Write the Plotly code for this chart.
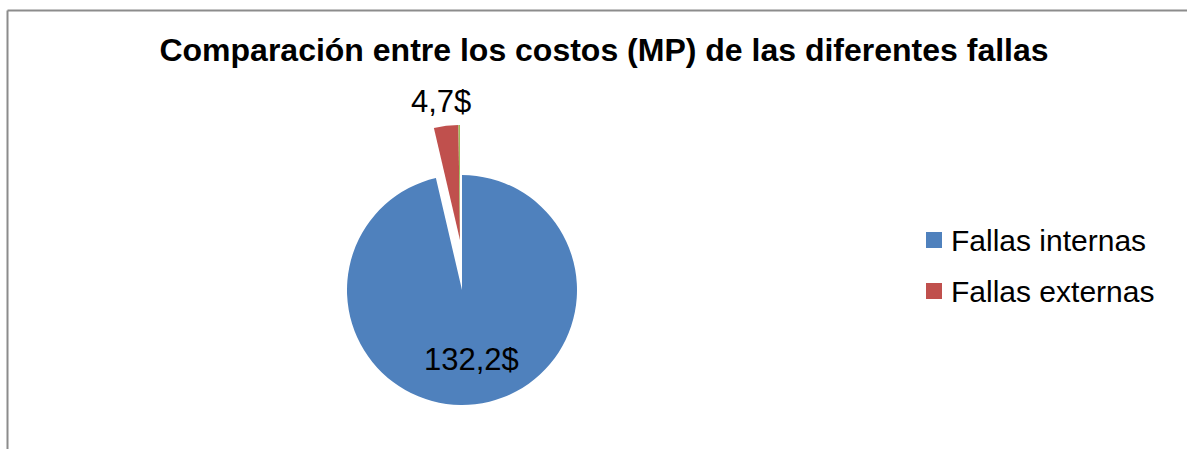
import plotly.graph_objects as go

# Cost of raw material (MP) per failure type, in $
categories = ["Fallas internas", "Fallas externas", "Otras fallas"]
values = [132.2, 4.7, 0.3]
colors = ["#4F81BD", "#C0504D", "#9BBB59"]
legend_labels = ["Fallas internas", "Fallas externas"]

TITLE = "Comparación entre los costos (MP) de las diferentes fallas"
FONT = "Liberation Sans, Arial, Helvetica, sans-serif"
W, H = 1187, 449
CLEAR = "rgba(0,0,0,0)"


def domain(cx, cy, r):
    """Square pie domain (paper fractions) around a pixel centre."""
    return dict(x=[(cx - r) / W, (cx + r) / W],
                y=[1 - (cy + r) / H, 1 - (cy - r) / H])


def money(v):
    """One decimal, comma as decimal separator, trailing $."""
    return f"{v:.1f}".replace(".", ",") + "$"


common = dict(
    labels=categories,
    values=values,
    sort=False,
    direction="clockwise",
    rotation=0,
    textinfo="none",
    showlegend=False,
    hoverinfo="label+value",
)

fig = go.Figure()

# main body of the pie (internal failures)
fig.add_trace(go.Pie(
    **common,
    marker=dict(colors=[colors[0], CLEAR, CLEAR], line=dict(width=0)),
    domain=domain(462, 290, 115),
))

# exploded small slices (external failures and the thin remainder)
fig.add_trace(go.Pie(
    **common,
    marker=dict(colors=[CLEAR, colors[1], colors[2]], line=dict(width=0)),
    domain=domain(460, 240, 115),
))

annotations = []
# data labels
label_font = dict(family=FONT, size=31, color="black")
annotations.append(dict(text=money(values[0]), xref="paper", yref="paper",
                        x=471 / W, y=1 - 359 / H, xanchor="center", yanchor="middle",
                        showarrow=False, font=label_font))
annotations.append(dict(text=money(values[1]), xref="paper", yref="paper",
                        x=441 / W, y=1 - 102 / H, xanchor="center", yanchor="middle",
                        showarrow=False, font=label_font))

# hand-built legend
shapes = []
for i, name in enumerate(legend_labels):
    yc = 240 + i * 51
    shapes.append(dict(type="rect", xref="paper", yref="paper",
                       x0=926 / W, x1=942 / W,
                       y0=1 - (yc + 8) / H, y1=1 - (yc - 8) / H,
                       fillcolor=colors[i], line=dict(width=0)))
    annotations.append(dict(text=name, xref="paper", yref="paper",
                            x=949 / W, y=1 - yc / H,
                            xanchor="left", yanchor="middle", showarrow=False,
                            font=dict(family=FONT, size=30, color="black")))

# chart area frame (left and top edges)
frame = dict(type="line", xref="paper", yref="paper",
             line=dict(color="#8c8c8c", width=2))
shapes.append({**frame, "x0": 7.5 / W, "x1": 7.5 / W, "y0": 0, "y1": 1 - 10.5 / H})
shapes.append({**frame, "x0": 7.5 / W, "x1": 1, "y0": 1 - 10.5 / H, "y1": 1 - 10.5 / H})

fig.update_layout(
    width=W, height=H,
    margin=dict(l=0, r=0, t=0, b=0),
    paper_bgcolor="white",
    plot_bgcolor="white",
    font=dict(family=FONT, color="black"),
    title=dict(text=f"<b>{TITLE}</b>", x=604 / W, xanchor="center",
               y=1 - 50 / H, yanchor="middle",
               font=dict(family=FONT, size=32, color="black")),
    shapes=shapes,
    annotations=annotations,
)

fig.write_html("out.html")
